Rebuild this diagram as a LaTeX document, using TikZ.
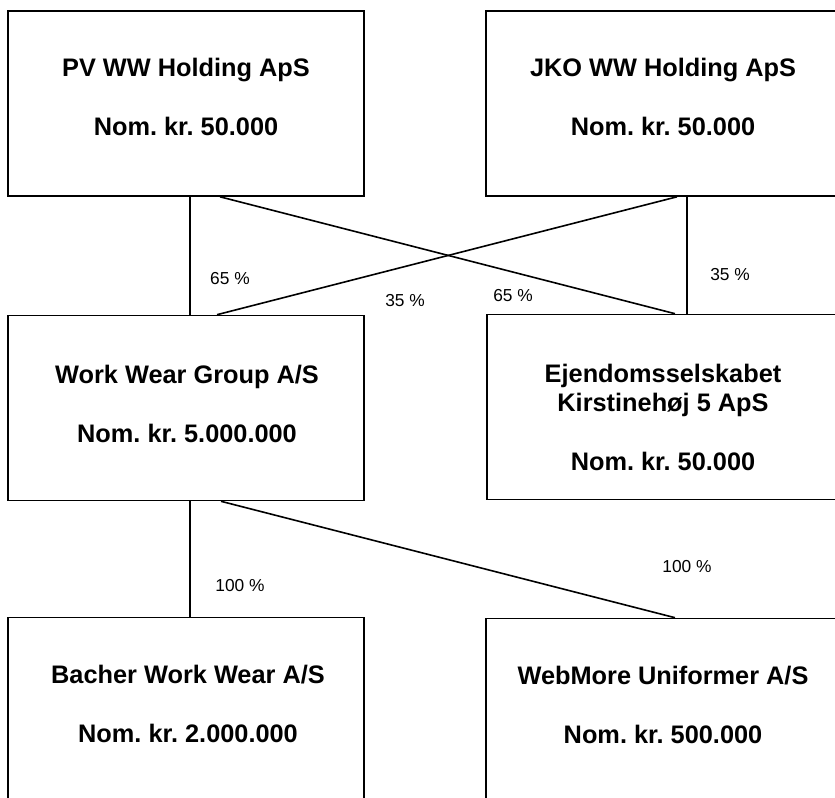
\documentclass[tikz,border=0pt]{standalone}
\usepackage{fontspec}
\setmainfont{Liberation Sans}
\frenchspacing

\begin{document}
\begin{tikzpicture}[x=0.75pt,y=-0.75pt,
    box/.style={draw, line width=1.2pt, minimum width=267pt, minimum height=138.75pt, inner sep=0pt},
    firm/.style={font=\fontsize{19}{22}\selectfont\bfseries, align=center, inner sep=0pt},
    share/.style={font=\fontsize{13}{15}\selectfont, inner sep=0pt}]

\useasboundingbox (0,0) rectangle (835,798);
\clip (0,0) rectangle (835,798);

\foreach \n/\x/\y in {pv/186/103.5, jko/664/103.5, wwg/186/408, ejd/665/407, bacher/186/710, webmore/664/711}
    \node [box] (\n) at (\x,\y) {};

\node [firm] (pvtxt) at (186,97) {PV WW Holding ApS\\[22pt]Nom. kr. 50.000};
\node [firm] (jkotxt) at (663,97) {JKO WW Holding ApS\\[22pt]Nom. kr. 50.000};
\node [firm] (wwgtxt) at (187,404) {Work Wear Group A/S\\[22pt]Nom. kr. 5.000.000};
\node [firm] (ejdtxt) at (663,417) {Ejendomsselskabet\\Kirstinehøj 5 ApS\\[22pt]Nom. kr. 50.000};
\node [firm] (bachertxt) at (188,704) {Bacher Work Wear A/S\\[22pt]Nom. kr. 2.000.000};
\node [firm] (webmoretxt) at (663,705) {WebMore Uniformer A/S\\[22pt]Nom. kr. 500.000};

\draw [line width=1.2pt] ([xshift=3pt]pv.south) -- ([xshift=3pt]wwg.north);
\draw [line width=1.2pt] ([xshift=25.5pt]pv.south) -- ([xshift=7.5pt]ejd.north);
\draw [line width=1.2pt] ([xshift=9.75pt]jko.south) -- ([xshift=23.25pt]wwg.north);
\draw [line width=1.2pt] ([xshift=17.25pt]jko.south) -- ([xshift=16.5pt]ejd.north);
\draw [line width=1.2pt] ([xshift=3pt]wwg.south) -- ([xshift=3pt]bacher.north);
\draw [line width=1.2pt] ([xshift=26.25pt]wwg.south) -- ([xshift=8.25pt]webmore.north);

\node [share] (s1) at (230,279) {65 \%};
\node [share] (s2) at (405,301) {35 \%};
\node [share] (s3) at (513,296) {65 \%};
\node [share] (s4) at (730,275) {35 \%};
\node [share] (s5) at (240,586) {100 \%};
\node [share] (s6) at (687,567) {100 \%};

\end{tikzpicture}
\end{document}
